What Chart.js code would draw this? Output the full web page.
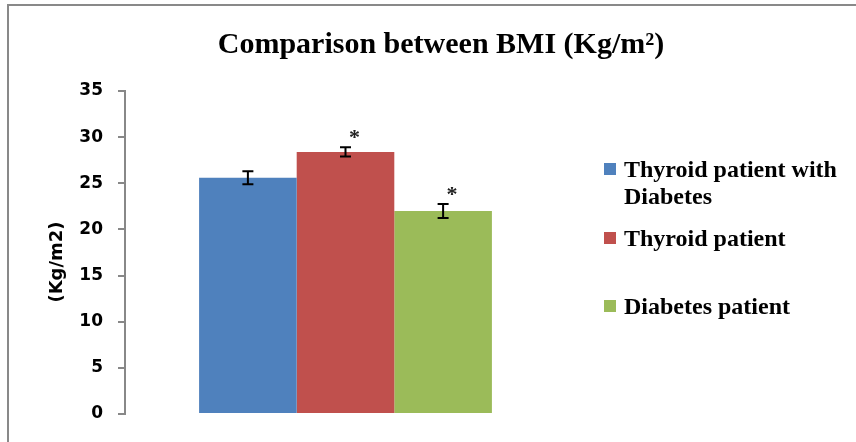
<!DOCTYPE html>
<html>
<head>
<meta charset="utf-8">
<script src="https://cdn.jsdelivr.net/npm/chart.js@4"></script>
<style>
  html, body { margin: 0; padding: 0; background: #fff; }
</style>
</head>
<body>
<canvas id="bmiChart" width="856" height="442"></canvas>
<script>
// BMI comparison between patient groups
const categories = ["BMI"];
const groups = ["Thyroid patient with Diabetes", "Thyroid patient", "Diabetes patient"];
const legendLines = [["Thyroid patient with", "Diabetes"], ["Thyroid patient"], ["Diabetes patient"]];
const bmiValues = [25.6, 28.4, 22.0];
const errValues = [0.7, 0.5, 0.75];
const sigMarks = ["", "*", "*"];
const yTicks = [0, 5, 10, 15, 20, 25, 30, 35];
const chartTitle = "Comparison between BMI (Kg/m²)";
const yTitle = "(Kg/m2)";
const colors = ["#4F81BD", "#C0504D", "#9BBB59"];

const serifBold = "bold {s}px 'Liberation Serif', 'Times New Roman', serif";
const font = (s) => serifBold.replace("{s}", s);

const decorPlugin = {
  id: "decor",
  beforeDraw(chart) {
    const ctx = chart.ctx;
    ctx.save();
    ctx.fillStyle = "#fff";
    ctx.fillRect(0, 0, chart.width, chart.height);
    // outer frame (left and top edges visible)
    ctx.strokeStyle = "#898989";
    ctx.lineWidth = 2;
    ctx.beginPath();
    ctx.moveTo(8, chart.height);
    ctx.lineTo(8, 5);
    ctx.lineTo(chart.width, 5);
    ctx.stroke();
    ctx.restore();
  },
  afterDraw(chart) {
    const ctx = chart.ctx;
    ctx.save();
    // title
    ctx.fillStyle = "#000";
    ctx.font = font(30);
    ctx.textAlign = "center";
    ctx.textBaseline = "alphabetic";
    ctx.fillText(chartTitle, 441, 53);

    // y axis title
    ctx.save();
    ctx.translate(57, 262);
    ctx.rotate(-Math.PI / 2);
    ctx.font = "bold 18px 'DejaVu Sans', sans-serif";
    ctx.textBaseline = "middle";
    ctx.fillText(yTitle, 0, 0);
    ctx.restore();

    // legend
    const baselines = [177, 246, 314];
    ctx.textAlign = "left";
    ctx.font = font(24);
    legendLines.forEach((lines, i) => {
      ctx.fillStyle = colors[i];
      ctx.fillRect(604, baselines[i] - 14, 12, 12);
      ctx.fillStyle = "#000";
      lines.forEach((t, j) => ctx.fillText(t, 624, baselines[i] + j * 27));
    });
    ctx.restore();
  },
  afterDatasetsDraw(chart) {
    const ctx = chart.ctx;
    const y = chart.scales.y;
    ctx.save();
    ctx.strokeStyle = "#000";
    ctx.lineWidth = 2;
    chart.data.datasets.forEach((ds, i) => {
      const bar = chart.getDatasetMeta(i).data[0];
      const v = bmiValues[i], e = errValues[i];
      const top = y.getPixelForValue(v + e);
      const bot = y.getPixelForValue(v - e);
      ctx.beginPath();
      ctx.moveTo(bar.x, top);
      ctx.lineTo(bar.x, bot);
      ctx.moveTo(bar.x - 5.5, top);
      ctx.lineTo(bar.x + 5.5, top);
      ctx.moveTo(bar.x - 5.5, bot);
      ctx.lineTo(bar.x + 5.5, bot);
      ctx.stroke();
      if (sigMarks[i]) {
        ctx.fillStyle = "#222";
        ctx.font = font(22);
        ctx.textAlign = "center";
        ctx.fillText(sigMarks[i], bar.x + 9, top - 3);
      }
    });
    ctx.restore();
  }
};

new Chart(document.getElementById("bmiChart"), {
  type: "bar",
  data: {
    labels: categories,
    datasets: groups.map((g, i) => ({
      label: g,
      data: [bmiValues[i]],
      backgroundColor: colors[i],
      borderWidth: 0,
      categoryPercentage: 0.664,
      barPercentage: 1.0,
    })),
  },
  options: {
    responsive: false,
    animation: false,
    layout: { padding: { left: 0, right: 290, top: 91, bottom: 28 } },
    plugins: {
      legend: { display: false },
      title: { display: false },
      tooltip: { enabled: false },
    },
    scales: {
      x: { display: false },
      y: {
        min: 0,
        max: 35,
        afterFit: (scale) => { scale.width = 125; },
        afterBuildTicks: (scale) => { scale.ticks = yTicks.map((v) => ({ value: v })); },
        border: { display: true, color: "#888", width: 2 },
        grid: { drawOnChartArea: false, tickLength: 7, color: "#888", lineWidth: 2 },
        ticks: {
          padding: 15,
          color: "#000",
          font: { family: "'DejaVu Sans', sans-serif", size: 17, weight: "bold" },
        },
      },
    },
  },
  plugins: [decorPlugin],
});
</script>
</body>
</html>
